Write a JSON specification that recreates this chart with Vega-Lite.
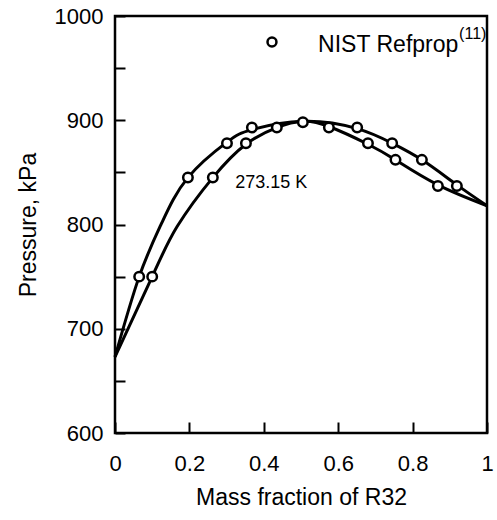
{
  "$schema": "https://vega.github.io/schema/vega-lite/v6.json",
  "autosize": "none",
  "width": 372,
  "height": 417,
  "padding": {"left": 115, "top": 16, "right": 10, "bottom": 87},
  "background": "white",
  "config": {
    "view": {"stroke": "black", "strokeWidth": 2.5},
    "font": "Liberation Sans",
    "axis": {
      "domain": false,
      "grid": false,
      "ticks": true,
      "tickColor": "black",
      "tickWidth": 2,
      "labelColor": "black",
      "titleColor": "black",
      "labelFont": "Liberation Sans",
      "titleFont": "Liberation Sans",
      "labelFontSize": 22,
      "titleFontSize": 23,
      "titleFontWeight": "normal"
    }
  },
  "datasets": {
    "curves": [
      {"x": 0, "p": 673, "curve": "upper"},
      {"x": 0.065, "p": 750, "curve": "upper"},
      {"x": 0.125, "p": 801, "curve": "upper"},
      {"x": 0.196, "p": 845, "curve": "upper"},
      {"x": 0.301, "p": 879, "curve": "upper"},
      {"x": 0.368, "p": 891, "curve": "upper"},
      {"x": 0.505, "p": 899, "curve": "upper"},
      {"x": 0.651, "p": 892, "curve": "upper"},
      {"x": 0.745, "p": 878, "curve": "upper"},
      {"x": 0.825, "p": 862, "curve": "upper"},
      {"x": 0.919, "p": 838, "curve": "upper"},
      {"x": 1, "p": 818, "curve": "upper"},
      {"x": 0, "p": 673, "curve": "lower"},
      {"x": 0.1, "p": 750, "curve": "lower"},
      {"x": 0.167, "p": 798, "curve": "lower"},
      {"x": 0.263, "p": 845, "curve": "lower"},
      {"x": 0.352, "p": 877, "curve": "lower"},
      {"x": 0.435, "p": 893, "curve": "lower"},
      {"x": 0.505, "p": 899, "curve": "lower"},
      {"x": 0.575, "p": 894, "curve": "lower"},
      {"x": 0.68, "p": 877, "curve": "lower"},
      {"x": 0.754, "p": 862, "curve": "lower"},
      {"x": 0.868, "p": 838, "curve": "lower"},
      {"x": 1, "p": 818, "curve": "lower"}
    ],
    "points": [
      {"x": 0.065, "p": 750},
      {"x": 0.1, "p": 750},
      {"x": 0.196, "p": 845},
      {"x": 0.263, "p": 845},
      {"x": 0.301, "p": 878},
      {"x": 0.352, "p": 878},
      {"x": 0.368, "p": 893},
      {"x": 0.435, "p": 893},
      {"x": 0.505, "p": 898},
      {"x": 0.575, "p": 893},
      {"x": 0.651, "p": 893},
      {"x": 0.68, "p": 878},
      {"x": 0.745, "p": 878},
      {"x": 0.754, "p": 862},
      {"x": 0.825, "p": 862},
      {"x": 0.868, "p": 837},
      {"x": 0.919, "p": 837}
    ],
    "legendpt": [{"x": 0.422, "p": 975}],
    "labels": [
      {"x": 0.546, "p": 972, "text": "NIST Refprop", "kind": "main"},
      {"x": 0.323, "p": 840, "text": "273.15 K", "kind": "temp"}
    ],
    "sup": [{"x": 0.925, "p": 983, "text": "(11)"}]
  },
  "layer": [
    {
      "data": {"name": "curves"},
      "mark": {"type": "line", "interpolate": "natural", "color": "black", "strokeWidth": 3},
      "encoding": {
        "x": {
          "field": "x", "type": "quantitative",
          "scale": {"domain": [0, 1], "nice": false, "zero": false},
          "axis": {
            "title": "Mass fraction of R32",
            "values": [0, 0.2, 0.4, 0.6, 0.8, 1],
            "format": "~g",
            "offset": -11,
            "tickSize": 11,
            "labelPadding": 20,
            "titlePadding": 12,
            "labelFlush": false
          }
        },
        "y": {
          "field": "p", "type": "quantitative",
          "scale": {"domain": [600, 1000], "nice": false, "zero": false},
          "axis": {
            "title": "Pressure, kPa",
            "values": [600, 650, 700, 750, 800, 850, 900, 950, 1000],
            "format": "d",
            "labelExpr": "datum.value % 100 === 0 ? datum.label : ''",
            "offset": -10,
            "tickSize": 10,
            "labelPadding": 12,
            "titlePadding": 14,
            "labelFlush": false
          }
        },
        "detail": {"field": "curve"}
      }
    },
    {
      "data": {"name": "points"},
      "mark": {"type": "point", "shape": "circle", "filled": true, "fill": "white", "stroke": "black", "strokeWidth": 2.5, "size": 90, "opacity": 1},
      "encoding": {
        "x": {"field": "x", "type": "quantitative"},
        "y": {"field": "p", "type": "quantitative"}
      }
    },
    {
      "data": {"name": "legendpt"},
      "mark": {"type": "point", "shape": "circle", "filled": true, "fill": "white", "stroke": "black", "strokeWidth": 2.5, "size": 80, "opacity": 1},
      "encoding": {
        "x": {"field": "x", "type": "quantitative"},
        "y": {"field": "p", "type": "quantitative"}
      }
    },
    {
      "data": {"name": "labels"},
      "mark": {"type": "text", "align": "left", "baseline": "middle", "color": "black", "font": "Liberation Sans"},
      "encoding": {
        "x": {"field": "x", "type": "quantitative"},
        "y": {"field": "p", "type": "quantitative"},
        "text": {"field": "text"},
        "size": {"field": "kind", "type": "nominal", "scale": {"domain": ["main", "temp"], "range": [23, 18]}, "legend": null}
      }
    },
    {
      "data": {"name": "sup"},
      "mark": {"type": "text", "align": "left", "baseline": "middle", "color": "black", "fontSize": 16, "font": "Liberation Sans"},
      "encoding": {
        "x": {"field": "x", "type": "quantitative"},
        "y": {"field": "p", "type": "quantitative"},
        "text": {"field": "text"}
      }
    }
  ]
}
